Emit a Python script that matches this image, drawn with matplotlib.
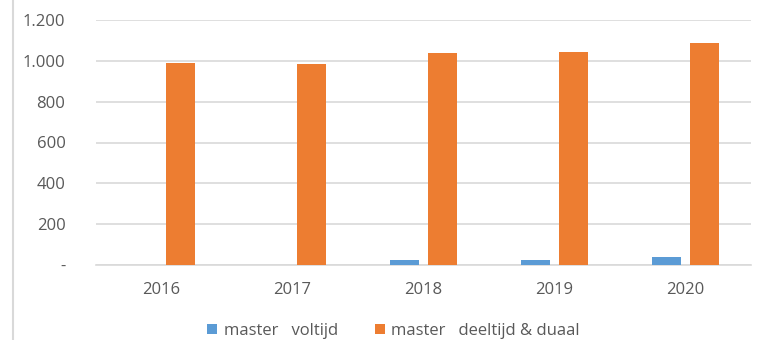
import matplotlib.pyplot as plt
import numpy as np

years = ["2016", "2017", "2018", "2019", "2020"]
voltijd = [0, 0, 25, 23, 40]
deeltijd_duaal = [990, 985, 1037, 1042, 1086]
yticks = [0, 200, 400, 600, 800, 1000, 1200]
ytick_labels = ["-", "200", "400", "600", "800", "1.000", "1.200"]

blue = "#5b9bd5"
orange = "#ed7d31"
grey = "#595959"

plt.rcParams["font.family"] = ["Open Sans", "DejaVu Sans"]

fig = plt.figure(figsize=(7.64, 3.4), dpi=100)
ax = fig.add_axes([96 / 764, 1 - 265 / 340, 655 / 764, 245 / 340])

x = np.arange(len(years))
w = 0.22
ax.bar(x - 0.145, voltijd, w, color=blue, label="master   voltijd", zorder=3)
ax.bar(x + 0.145, deeltijd_duaal, w, color=orange, label="master   deeltijd & duaal", zorder=3)

ax.set_xlim(-0.5, len(years) - 0.5)
ax.set_ylim(0, 1200)
ax.set_yticks(yticks)
ax.set_yticklabels(ytick_labels)
ax.set_xticks(x)
ax.set_xticklabels(years)
ax.tick_params(axis="both", length=0, labelsize=12, colors=grey)
ax.tick_params(axis="y", pad=22)
ax.tick_params(axis="x", pad=12)
ax.grid(axis="y", color="#d9d9d9", linewidth=1.2, zorder=0)
for s in ["top", "right", "left"]:
    ax.spines[s].set_visible(False)
ax.spines["bottom"].set_color("#d9d9d9")
ax.spines["bottom"].set_linewidth(1.2)

leg = fig.legend(loc="center", bbox_to_anchor=(0.515, 1 - 331 / 340), ncol=2,
                 frameon=False, fontsize=12, handlelength=0.6, handleheight=0.6,
                 handletextpad=0.4, columnspacing=2.2)
for t in leg.get_texts():
    t.set_color(grey)

# thin frame line on the left edge
fig.add_artist(plt.Line2D([13 / 764, 13 / 764], [0, 1], color="#d9d9d9", linewidth=1.5))

fig.savefig("out.png", dpi=100, facecolor="white")
